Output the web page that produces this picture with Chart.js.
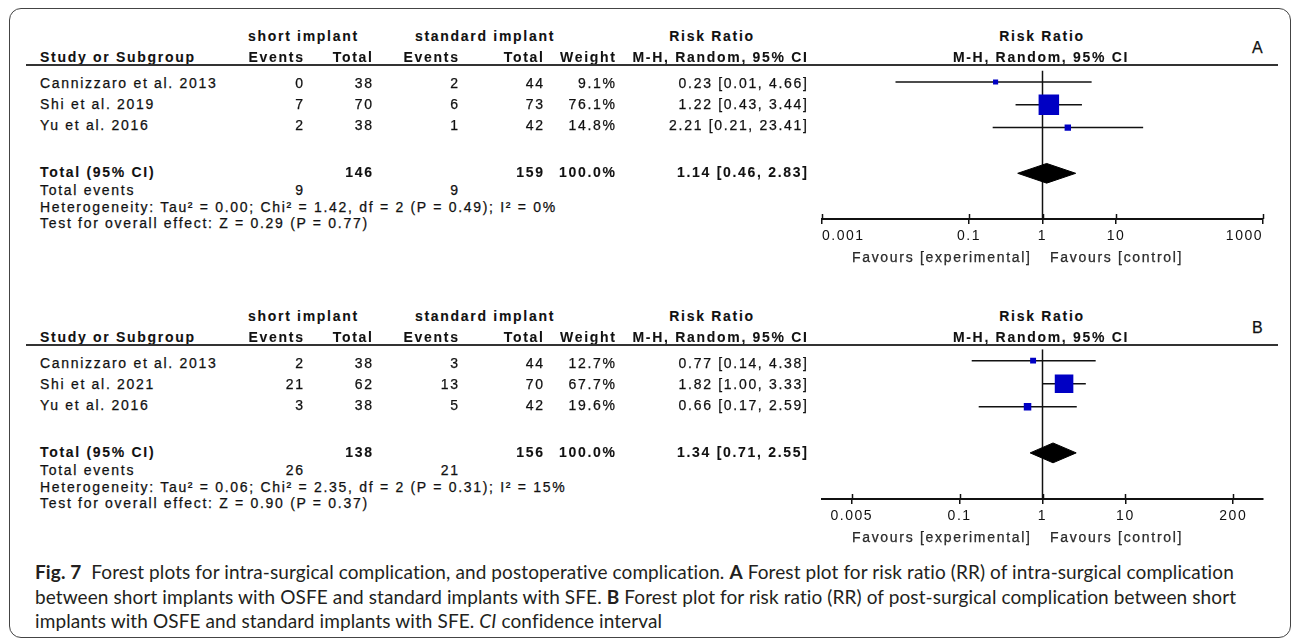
<!DOCTYPE html>
<html>
<head>
<meta charset="utf-8">
<script src="https://cdn.jsdelivr.net/npm/chart.js@4.4.0/dist/chart.umd.min.js"></script>
<style>
  body { margin: 0; background: #fff; width: 1292px; height: 641px; overflow: hidden; position: relative;
         font-family: "Liberation Sans", Arial, sans-serif; color: #111; }
  #frame { position: absolute; left: 9px; top: 8px; width: 1282px; height: 630px;
           border: 1.5px solid #444; border-radius: 12px; box-sizing: border-box; }
  .t { position: absolute; font-size: 14px; line-height: 16px; letter-spacing: 1.7px; white-space: nowrap;
       -webkit-text-stroke: 0.25px #111; }
  .b { font-weight: bold; -webkit-text-stroke: 0.1px #111; }
  .hl { position: absolute; height: 2px; background: #333; }
  canvas { position: absolute; }
  .cap { position: absolute; left: 35px; font-family: Lato, sans-serif; font-size: 19px; line-height: 24px;
         letter-spacing: 0.1px; white-space: nowrap; color: #231f20; }
</style>
</head>
<body>
<div id="frame"></div>
<canvas id="plotA" width="490" height="214" style="left:800px;top:56px"></canvas>
<canvas id="plotB" width="490" height="214" style="left:800px;top:336px"></canvas>
<div class="cap" style="top:560px"><b>Fig. 7</b>&nbsp; Forest plots for intra-surgical complication, and postoperative complication. <b>A</b> Forest plot for risk ratio (RR) of intra-surgical complication</div>
<div class="cap" style="top:585px">between short implants with OSFE and standard implants with SFE. <b>B</b> Forest plot for risk ratio (RR) of post-surgical complication between short</div>
<div class="cap" style="top:609px">implants with OSFE and standard implants with SFE. <i>CI</i> confidence interval</div>

<script>
// ---- panel A : intra-surgical complication ----
const studiesA = ['Cannizzaro et al. 2013', 'Shi et al. 2019', 'Yu et al. 2016'];
const shortEventsA = [0, 7, 2];
const shortTotalA = [38, 70, 38];
const stdEventsA = [2, 6, 1];
const stdTotalA = [44, 73, 42];
const weightA = [9.1, 76.1, 14.8];
const rrA = [0.23, 1.22, 2.21];
const lowA = [0.01, 0.43, 0.21];
const highA = [4.66, 3.44, 23.41];
const pooledA = [1.14, 0.46, 2.83];
const sumTotalsA = [146, 159];
const sumEventsA = [9, 9];
const hetA = 'Heterogeneity: Tau² = 0.00; Chi² = 1.42, df = 2 (P = 0.49); I² = 0%';
const testA = 'Test for overall effect: Z = 0.29 (P = 0.77)';
const ticksA = [0.001, 0.1, 1, 10, 1000];
const tickLabelsA = ['0.001', '0.1', '1', '10', '1000'];

// ---- panel B : postoperative complication ----
const studiesB = ['Cannizzaro et al. 2013', 'Shi et al. 2021', 'Yu et al. 2016'];
const shortEventsB = [2, 21, 3];
const shortTotalB = [38, 62, 38];
const stdEventsB = [3, 13, 5];
const stdTotalB = [44, 70, 42];
const weightB = [12.7, 67.7, 19.6];
const rrB = [0.77, 1.82, 0.66];
const lowB = [0.14, 1.00, 0.17];
const highB = [4.38, 3.33, 2.59];
const pooledB = [1.34, 0.71, 2.55];
const sumTotalsB = [138, 156];
const sumEventsB = [26, 21];
const hetB = 'Heterogeneity: Tau² = 0.06; Chi² = 2.35, df = 2 (P = 0.31); I² = 15%';
const testB = 'Test for overall effect: Z = 0.90 (P = 0.37)';
const ticksB = [0.005, 0.1, 1, 10, 200];
const tickLabelsB = ['0.005', '0.1', '1', '10', '200'];

const INK = '#111';
const BLUE = '#0000c4';

// text helper: align l / r / c at x, vertically centred on y
function put(x, y, txt, align, bold, extra) {
  const d = document.createElement('div');
  d.className = 't' + (bold ? ' b' : '');
  d.textContent = txt;
  d.style.top = (y - 8) + 'px';
  if (align === 'r') { d.style.right = (1292 - x) + 'px'; d.style.marginRight = '-1.7px'; }
  else if (align === 'c') { d.style.left = x + 'px'; d.style.transform = 'translateX(-50%)'; }
  else d.style.left = x + 'px';
  if (extra) Object.assign(d.style, extra);
  document.body.appendChild(d);
}
const fmt = v => v.toFixed(2);
const ciText = (r, l, h) => `${fmt(r)} [${fmt(l)}, ${fmt(h)}]`;

function table(dy, label, studies, se, st, de, dt, w, rr, lo, hi, pooled, sums, evs, het, test) {
  put(248, 36 + dy, 'short implant', 'l', true);
  put(415, 36 + dy, 'standard implant', 'l', true);
  put(712, 36 + dy, 'Risk Ratio', 'c', true);
  put(1042, 36 + dy, 'Risk Ratio', 'c', true);
  put(1252, 48 + dy, label, 'l', false, { fontSize: '16px' });
  put(40, 57 + dy, 'Study or Subgroup', 'l', true);
  put(303, 57 + dy, 'Events', 'r', true);
  put(372, 57 + dy, 'Total', 'r', true);
  put(458, 57 + dy, 'Events', 'r', true);
  put(543, 57 + dy, 'Total', 'r', true);
  put(615, 57 + dy, 'Weight', 'r', true);
  put(807, 57 + dy, 'M-H, Random, 95% CI', 'r', true);
  put(1041, 57 + dy, 'M-H, Random, 95% CI', 'c', true);
  const hl = document.createElement('div');
  hl.className = 'hl';
  Object.assign(hl.style, { left: '26px', width: '1252px', top: (64 + dy) + 'px' });
  document.body.appendChild(hl);

  const rowsY = [83, 104, 125];
  studies.forEach((s, i) => {
    const y = rowsY[i] + dy;
    put(40, y, s, 'l');
    put(303, y, String(se[i]), 'r');
    put(372, y, String(st[i]), 'r');
    put(458, y, String(de[i]), 'r');
    put(543, y, String(dt[i]), 'r');
    put(615, y, w[i].toFixed(1) + '%', 'r');
    put(807, y, ciText(rr[i], lo[i], hi[i]), 'r');
  });
  put(40, 172 + dy, 'Total (95% CI)', 'l', true);
  put(372, 172 + dy, String(sums[0]), 'r', true);
  put(543, 172 + dy, String(sums[1]), 'r', true);
  put(615, 172 + dy, '100.0%', 'r', true);
  put(807, 172 + dy, ciText(pooled[0], pooled[1], pooled[2]), 'r', true);
  put(40, 190 + dy, 'Total events', 'l');
  put(303, 190 + dy, String(evs[0]), 'r');
  put(458, 190 + dy, String(evs[1]), 'r');
  put(40, 207 + dy, het, 'l');
  put(40, 223 + dy, test, 'l');
  put(1030, 257 + dy, 'Favours [experimental]', 'r', false, { color: '#333' });
  put(1050, 257 + dy, 'Favours [control]', 'l', false, { color: '#333' });
}

table(0, 'A', studiesA, shortEventsA, shortTotalA, stdEventsA, stdTotalA, weightA, rrA, lowA, highA,
      pooledA, sumTotalsA, sumEventsA, hetA, testA);
table(280, 'B', studiesB, shortEventsB, shortTotalB, stdEventsB, stdTotalB, weightB, rrB, lowB, highB,
      pooledB, sumTotalsB, sumEventsB, hetB, testB);

// ticks crossing the axis line (upper half; lower half is the grid tick)
const crossTicks = {
  id: 'crossTicks',
  beforeDraw(chart) { chart.ctx.letterSpacing = '1.5px'; },
  afterDraw(chart) {
    const s = chart.scales.x, ctx = chart.ctx, y = chart.chartArea.bottom;
    ctx.save();
    ctx.strokeStyle = INK;
    ctx.lineWidth = 1.5;
    s.ticks.forEach(t => {
      const x = Math.round(s.getPixelForValue(t.value)) + 0.5;
      ctx.beginPath(); ctx.moveTo(x, y - 5); ctx.lineTo(x, y); ctx.stroke();
    });
    ctx.restore();
  }
};

const TOTAL_ROW = 5;
function forest(id, rr, lo, hi, w, pooled, tickVals, tickLabels, min, max, align) {
  const sets = [];
  // study squares, size from weight
  sets.push({
    data: rr.map((v, i) => ({ x: v, y: i + 1 })),
    pointStyle: 'rect',
    pointRadius: w.map(v => (3 + 0.23 * v) / 1.414),
    backgroundColor: BLUE, borderWidth: 0, order: 0
  });
  // confidence intervals
  rr.forEach((v, i) => sets.push({
    data: [{ x: lo[i], y: i + 1 }, { x: hi[i], y: i + 1 }],
    showLine: true, borderColor: INK, borderWidth: 1.5, pointRadius: 0, order: 2
  }));
  // pooled diamond
  const h = 0.43;
  sets.push({
    data: [{ x: pooled[1], y: TOTAL_ROW }, { x: pooled[0], y: TOTAL_ROW - h }, { x: pooled[2], y: TOTAL_ROW },
           { x: pooled[0], y: TOTAL_ROW + h }, { x: pooled[1], y: TOTAL_ROW }],
    showLine: true, fill: 'shape', backgroundColor: '#000', borderColor: '#000', borderWidth: 1,
    pointRadius: 0, tension: 0, order: 1
  });
  // line of no effect
  sets.push({
    data: [{ x: 1, y: 0.5 }, { x: 1, y: 7 }],
    showLine: true, borderColor: INK, borderWidth: 1.5, pointRadius: 0, order: 3
  });

  return new Chart(document.getElementById(id), {
    type: 'scatter',
    data: { datasets: sets },
    options: {
      responsive: false, animation: false, events: [],
      layout: { padding: { left: 22, right: 27, top: 10.25, bottom: 11 } },
      plugins: { legend: { display: false }, tooltip: { enabled: false } },
      scales: {
        x: {
          type: 'logarithmic', min: min, max: max,
          afterBuildTicks: s => { s.ticks = tickVals.map(v => ({ value: v })); },
          afterFit: s => { s.height = 40; },
          ticks: {
            autoSkip: false, maxRotation: 0, align: align, padding: 4, color: INK,
            font: { family: 'Liberation Sans', size: 14 },
            callback: (v, i) => tickLabels[i]
          },
          grid: { display: true, drawOnChartArea: false, drawTicks: true, tickLength: 5, color: INK, lineWidth: 1.5 },
          border: { display: true, color: INK, width: 2 }
        },
        y: { type: 'linear', reverse: true, min: 0.5, max: 7, display: false }
      }
    },
    plugins: [crossTicks]
  });
}

forest('plotA', rrA, lowA, highA, weightA, pooledA, ticksA, tickLabelsA, 0.001, 1000, 'inner');
forest('plotB', rrB, lowB, highB, weightB, pooledB, ticksB, tickLabelsB,
       Math.pow(10, -2.66), Math.pow(10, 2.66), 'center');
</script>
</body>
</html>
